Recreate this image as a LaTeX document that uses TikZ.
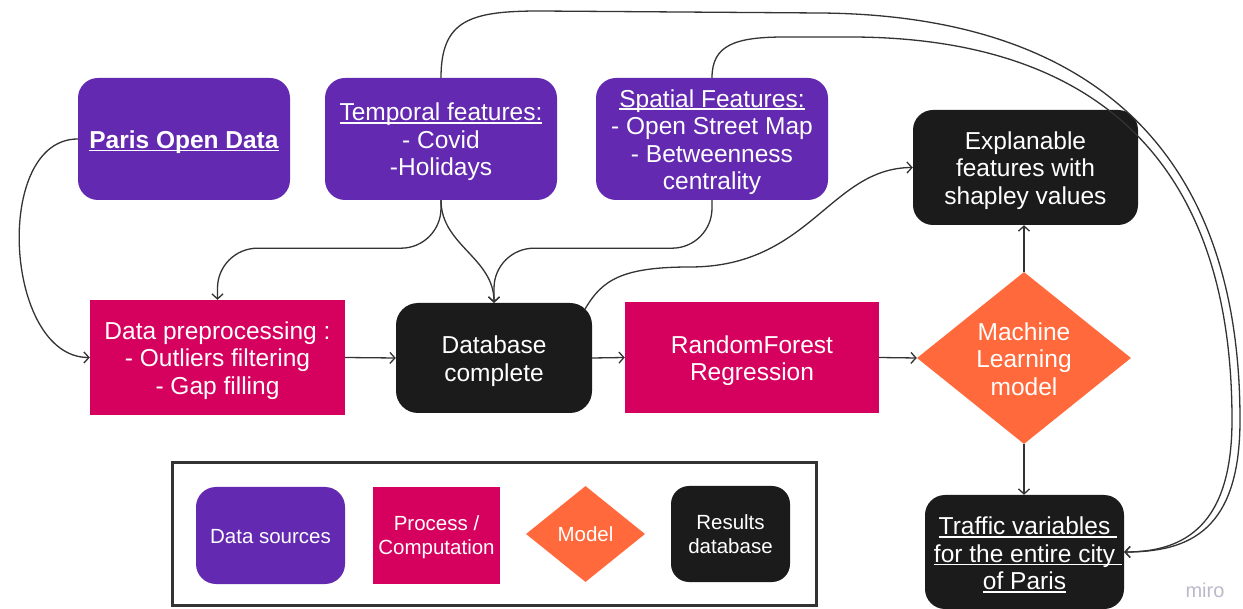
\documentclass[tikz,border=0pt]{standalone}
\usepackage{fontspec}
\setmainfont{Liberation Sans}
\usetikzlibrary{shapes.geometric,arrows.meta,calc}

\definecolor{srcpurple}{HTML}{6429B1}
\definecolor{procpink}{HTML}{D6005E}
\definecolor{modelorange}{HTML}{FF693B}
\definecolor{resblack}{HTML}{1B1B1B}
\definecolor{linegray}{HTML}{333333}
\definecolor{mirogray}{HTML}{BABACB}

% underline sitting just under the baseline
\newlength\ulwd
\newcommand\uline[1]{\settowidth\ulwd{#1}\rlap{\rule[-3pt]{\ulwd}{1.6pt}}#1}

\tikzset{
  box/.style={inner sep=0pt},
  srcbox/.style={box, fill=srcpurple, rounded corners=20pt},
  procbox/.style={box, fill=procpink},
  resbox/.style={box, fill=resblack, rounded corners=20pt},
  modelbox/.style={box, fill=modelorange, diamond},
  txt/.style={text=white, align=center, inner sep=0pt, yshift=-3pt,
              font=\fontsize{24.5}{27.5}\selectfont},
  legtxt/.style={txt, yshift=2pt, font=\fontsize{20.5}{24}\selectfont},
  conn/.style={draw=linegray, line width=1.3pt,
               -{Straight Barb[length=5pt,width=11pt]}},
}

\begin{document}
\begin{tikzpicture}[x=1pt, y=-1pt]
\fill[white] (0,0) rectangle (1243,609);
\useasboundingbox (0,0) rectangle (1243,609);

% data sources
\node[srcbox, minimum width=212pt, minimum height=122pt,
  label={[txt]center:{\uline{\textbf{Paris Open Data}}}}] (paris) at (184,139) {};
\node[srcbox, minimum width=232pt, minimum height=122pt,
  label={[txt]center:{\uline{Temporal features:}\\- Covid\\-Holidays}}] (tem) at (441,139) {};
\node[srcbox, minimum width=232pt, minimum height=122pt,
  label={[txt]center:{\uline{Spatial Features:}\\- Open Street Map\\- Betweenness\\centrality}}] (spa) at (712,139) {};

% processing chain
\node[procbox, minimum width=255pt, minimum height=115pt,
  label={[txt]center:{Data preprocessing :\\- Outliers filtering\\- Gap filling}}] (prep) at (217.5,357.5) {};
\node[resbox, rounded corners=22pt, minimum width=196pt, minimum height=110pt,
  label={[txt]center:{Database\\complete}}] (db) at (494,358) {};
\node[procbox, minimum width=254pt, minimum height=111pt,
  label={[txt]center:{RandomForest\\Regression}}] (rf) at (752,357.5) {};
\node[modelbox, minimum width=214pt, minimum height=172pt,
  label={[txt, yshift=2pt]center:{Machine\\Learning\\model}}] (ml) at (1024,358) {};

% results
\node[resbox, minimum width=225pt, minimum height=115pt,
  label={[txt]center:{Explanable\\features with\\shapley values}}] (expl) at (1025.5,167.5) {};
\node[resbox, minimum width=199pt, minimum height=114pt,
  label={[txt]center:{\uline{Traffic variables\ }\\\uline{for the entire city\ }\\\uline{of Paris}}}] (traffic) at (1024.5,552) {};

% legend
\node[draw=linegray, line width=3pt, minimum width=644pt, minimum height=142pt, inner sep=0pt] (legend) at (494,534) {};
\node[srcbox, minimum width=149pt, minimum height=97pt,
  label={[legtxt]center:{Data sources}}] (lsrc) at (270.5,535.5) {};
\node[procbox, minimum width=127pt, minimum height=97pt,
  label={[legtxt, yshift=-1pt]center:{Process /\\Computation}}] (lproc) at (436.5,535.5) {};
\node[modelbox, minimum width=119pt, minimum height=96pt,
  label={[legtxt, yshift=1pt]center:{Model}}] (lmodel) at (585.5,534) {};
\node[resbox, rounded corners=18pt, minimum width=119pt, minimum height=96pt,
  label={[legtxt, yshift=1pt]center:{Results\\database}}] (lres) at (730.5,534) {};

\node[text=mirogray, font=\fontsize{20}{20}\selectfont] (miro) at (1205,590) {miro};

% straight flow
\draw[conn] (prep.east) -- (db.west);
\draw[conn] (db.east) -- (rf.west);
\draw[conn] (rf.east) -- (ml.west);
\draw[conn] (ml.north) -- (ml.north |- expl.south);
\draw[conn] (ml.south) -- (ml.south |- traffic.north);

% inputs
\draw[conn] (paris.west) to[out=180,in=180] (prep.west);
\draw[conn, rounded corners=40pt] (tem.south) -- ++(0,48) -| (prep.north);
\draw[conn] (tem.south) to[out=-90,in=90] (db.north);
\draw[conn, rounded corners=40pt] (spa.south) -- ++(0,48) -| (db.north);

% database to explanations
\coordinate (dbout) at ($(db.north east)+(-7,6)$);
\draw[conn] (dbout) .. controls (602,280) and (622,267) .. (690,267)
  .. controls (810,267) and (830,168) .. (expl.west);

% features carried to the city-wide output
\draw[conn] (tem.north) .. controls (441,20) and (470,11) .. (540,11) -- (820,13)
  .. controls (1080,15) and (1240,140) .. (1240,420)
  .. controls (1240,530) and (1190,552) .. (traffic.east);
\draw[conn] (spa.north) .. controls (712,45) and (735,37) .. (785,37) -- (850,37)
  .. controls (1050,37) and (1232,120) .. (1232,420)
  .. controls (1232,525) and (1185,552) .. (traffic.east);
\end{tikzpicture}
\end{document}
